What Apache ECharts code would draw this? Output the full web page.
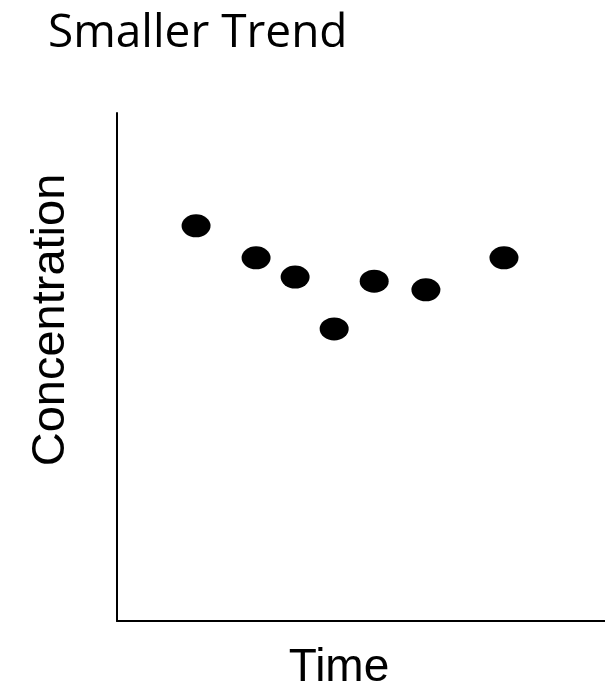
<!DOCTYPE html>
<html>
<head>
<meta charset="utf-8">
<script src="https://cdn.jsdelivr.net/npm/echarts@6/dist/echarts.min.js"></script>
<style>html,body{margin:0;padding:0;background:#fff;}#c{width:605px;height:689px;}</style>
</head>
<body>
<div id="c"></div>
<script>
var titleText = 'Smaller Trend';
var xName = 'Time';
var yName = 'Concentration';
var timeValues = [16.2, 28.5, 36.5, 44.5, 52.7, 63.3, 79.3];
var concentrationValues = [77.8, 71.5, 67.7, 57.5, 66.9, 65.2, 71.5];

var points = timeValues.map(function (t, i) { return [t, concentrationValues[i]]; });

var chart = echarts.init(document.getElementById('c'), null, { renderer: 'canvas' });
chart.setOption({
  backgroundColor: '#fff',
  animation: false,
  grid: { left: 117, top: 113, right: 0, bottom: 68 },
  xAxis: {
    type: 'value', min: 0, max: 100,
    axisLine: { show: true, lineStyle: { color: '#000', width: 2 } },
    axisTick: { show: false }, axisLabel: { show: false }, splitLine: { show: false }
  },
  yAxis: {
    type: 'value', min: 0, max: 100,
    axisLine: { show: true, lineStyle: { color: '#000', width: 2 } },
    axisTick: { show: false }, axisLabel: { show: false }, splitLine: { show: false }
  },
  graphic: [
    { type: 'text', left: 48, top: 11, style: { text: titleText, font: '46px "Open Sans"', fill: '#000' } },
    { type: 'text', x: 339, y: 668, style: { text: xName, font: '46px "Liberation Sans"', fill: '#000', textAlign: 'center', textVerticalAlign: 'middle' } },
    { type: 'text', x: 51, y: 320, rotation: Math.PI / 2, style: { text: yName, font: '47px "Liberation Sans"', fill: '#000', textAlign: 'center', textVerticalAlign: 'middle' } }
  ],
  series: [{
    type: 'scatter',
    data: points,
    symbol: 'circle',
    symbolSize: [29, 23],
    itemStyle: { color: '#000', opacity: 1 }
  }]
});
</script>
</body>
</html>
